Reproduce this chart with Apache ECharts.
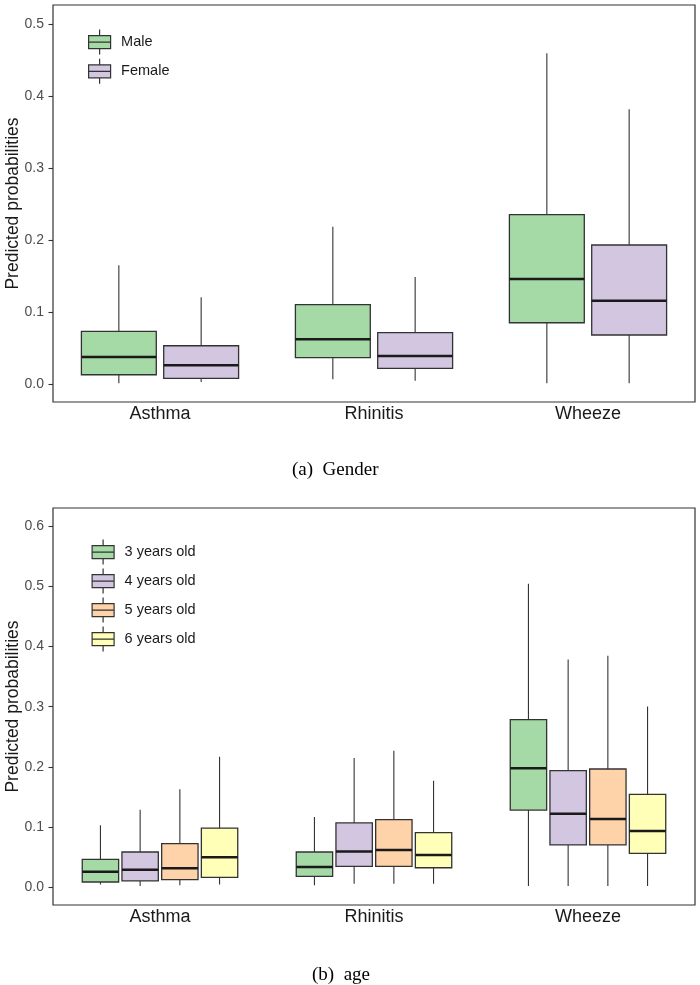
<!DOCTYPE html>
<html>
<head>
<meta charset="utf-8">
<script src="https://cdn.jsdelivr.net/npm/echarts@6/dist/echarts.min.js"></script>
<style>
html,body{margin:0;padding:0;background:#fff;}
#chart{width:700px;height:985px;}
</style>
</head>
<body>
<div id="chart"></div>
<script>
// ---- data ----
const categories = ['Asthma', 'Rhinitis', 'Wheeze'];
const yTicksTop = [0, 0.1, 0.2, 0.3, 0.4, 0.5];
const yTicksBottom = [0, 0.1, 0.2, 0.3, 0.4, 0.5, 0.6];
const genderNames = ['Male', 'Female'];
const ageNames = ['3 years old', '4 years old', '5 years old', '6 years old'];
// each box: [min, Q1, median, Q3, max]
const maleBox = [[0.0014, 0.0133, 0.038, 0.0735, 0.165], [0.0069, 0.0369, 0.0624, 0.1104, 0.2186], [0.0014, 0.0854, 0.146, 0.2352, 0.459]];
const femaleBox = [[0.0032, 0.0083, 0.0263, 0.0535, 0.1207], [0.005, 0.0222, 0.0393, 0.0716, 0.149], [0.0014, 0.0684, 0.116, 0.1932, 0.3814]];
const age3Box = [[0.004, 0.0083, 0.0255, 0.046, 0.1025], [0.003, 0.0177, 0.0333, 0.0582, 0.1165], [0.0017, 0.128, 0.1974, 0.2784, 0.5047]];
const age4Box = [[0.0017, 0.01, 0.0288, 0.0582, 0.1286], [0.0055, 0.0343, 0.0592, 0.1065, 0.2146], [0.0017, 0.0699, 0.122, 0.1935, 0.3787]];
const age5Box = [[0.003, 0.0122, 0.031, 0.072, 0.1624], [0.0055, 0.0343, 0.0615, 0.112, 0.2268], [0.0017, 0.0699, 0.1131, 0.1963, 0.3849]];
const age6Box = [[0.004, 0.016, 0.0493, 0.098, 0.2168], [0.0055, 0.032, 0.0532, 0.0903, 0.1769], [0.0017, 0.0559, 0.0932, 0.154, 0.3005]];
const captionTop = '(a)  Gender';
const captionBottom = '(b)  age';

// ---- styling ----
const colors = ['#A5D9A5', '#D2C6E1', '#FED3AA', '#FFFFB8'];
const edge = '#333333';

function makeRender(offsetFrac, widthFrac) {
  return function (params, api) {
    const cat = api.value(0);
    const band = api.size([1, 0])[0];
    const cx = api.coord([cat, 0])[0] + offsetFrac * band;
    const w = widthFrac * band;
    const yMin = api.coord([cat, api.value(1)])[1];
    const yQ1 = api.coord([cat, api.value(2)])[1];
    const yMed = api.coord([cat, api.value(3)])[1];
    const yQ3 = api.coord([cat, api.value(4)])[1];
    const yMax = api.coord([cat, api.value(5)])[1];
    return {
      type: 'group',
      children: [
        { type: 'line', shape: { x1: cx, y1: yMax, x2: cx, y2: yQ3 }, style: { stroke: edge, lineWidth: 1.1 } },
        { type: 'line', shape: { x1: cx, y1: yQ1, x2: cx, y2: yMin }, style: { stroke: edge, lineWidth: 1.1 } },
        { type: 'rect', shape: { x: cx - w / 2, y: yQ3, width: w, height: yQ1 - yQ3 }, style: { fill: api.visual('color'), stroke: edge, lineWidth: 1.3 } },
        { type: 'line', shape: { x1: cx - w / 2, y1: yMed, x2: cx + w / 2, y2: yMed }, style: { stroke: '#1a1a1a', lineWidth: 2.5 } }
      ]
    };
  };
}

function toData(boxes) {
  return boxes.map((b, i) => [i].concat(b));
}

const topSets = [maleBox, femaleBox];
const bottomSets = [age3Box, age4Box, age5Box, age6Box];
const topOffsets = [-0.1923, 0.1923];
const bottomOffsets = [-0.2783, -0.0928, 0.0928, 0.2783];

const series = [];
topSets.forEach((set, k) => {
  series.push({
    type: 'custom', name: genderNames[k], xAxisIndex: 0, yAxisIndex: 0,
    itemStyle: { color: colors[k] },
    renderItem: makeRender(topOffsets[k], 0.35),
    encode: { x: 0, y: [1, 2, 3, 4, 5] },
    data: toData(set)
  });
});
bottomSets.forEach((set, k) => {
  series.push({
    type: 'custom', name: ageNames[k], xAxisIndex: 1, yAxisIndex: 1,
    itemStyle: { color: colors[k] },
    renderItem: makeRender(bottomOffsets[k], 0.17),
    encode: { x: 0, y: [1, 2, 3, 4, 5] },
    data: toData(set)
  });
});

const legendIcon = 'path://M11,0L11,6M0,6L22,6L22,19L0,19ZM0,12.5L22,12.5M11,19L11,25';

function xAxisCfg(gi) {
  return {
    type: 'category', gridIndex: gi, data: categories,
    axisLine: { show: false }, axisTick: { show: false },
    axisLabel: { fontSize: 18, color: '#1a1a1a', margin: 3, fontFamily: 'Liberation Sans, Arial, sans-serif' },
    splitLine: { show: false }
  };
}
function yAxisCfg(gi, min, max, ticks) {
  return {
    type: 'value', gridIndex: gi, min: min, max: max,
    name: 'Predicted probabilities', nameLocation: 'middle', nameGap: 31, nameMoveOverlap: false,
    nameTextStyle: { fontSize: 17.5, color: '#1a1a1a', fontFamily: 'Liberation Sans, Arial, sans-serif' },
    axisLine: { show: false },
    axisTick: { show: true, length: 4.5, lineStyle: { color: edge, width: 1.1 }, customValues: ticks },
    axisLabel: { fontSize: 14, color: '#4d4d4d', margin: 9, fontFamily: 'Liberation Sans, Arial, sans-serif',
      customValues: ticks, formatter: v => Number(v).toFixed(1) },
    splitLine: { show: false }
  };
}

const option = {
  animation: false,
  backgroundColor: '#ffffff',
  grid: [
    { left: 53, right: 5, top: 5, height: 397, show: true, borderColor: edge, borderWidth: 1.2, backgroundColor: 'transparent', containLabel: false, outerBoundsMode: 'none' },
    { left: 53, right: 5, top: 508, height: 397, show: true, borderColor: edge, borderWidth: 1.2, backgroundColor: 'transparent', containLabel: false, outerBoundsMode: 'none' }
  ],
  xAxis: [xAxisCfg(0), xAxisCfg(1)],
  yAxis: [yAxisCfg(0, -0.0245, 0.526, yTicksTop), yAxisCfg(1, -0.03, 0.6306, yTicksBottom)],
  legend: [
    {
      data: genderNames.map(n => ({ name: n, icon: legendIcon })),
      orient: 'vertical', left: 88, top: 29, padding: 0,
      itemWidth: 23, itemHeight: 25, itemGap: 3, selectedMode: false,
      itemStyle: { borderColor: edge, borderWidth: 1.2 },
      textStyle: { fontSize: 14.5, color: '#1a1a1a', padding: [0, 0, 0, 5], fontFamily: 'Liberation Sans, Arial, sans-serif' }
    },
    {
      data: ageNames.map(n => ({ name: n, icon: legendIcon })),
      orient: 'vertical', left: 91.5, top: 539, padding: 0,
      itemWidth: 23, itemHeight: 25, itemGap: 2.8, selectedMode: false,
      itemStyle: { borderColor: edge, borderWidth: 1.2 },
      textStyle: { fontSize: 14.5, color: '#1a1a1a', padding: [0, 0, 0, 5], fontFamily: 'Liberation Sans, Arial, sans-serif' }
    }
  ],
  graphic: [
    { type: 'text', left: 292, top: 461, style: { text: captionTop, font: '19px "Liberation Serif", "Times New Roman", serif', fill: '#000' } },
    { type: 'text', left: 312, top: 966, style: { text: captionBottom, font: '19px "Liberation Serif", "Times New Roman", serif', fill: '#000' } }
  ],
  series: series
};

const chart = echarts.init(document.getElementById('chart'), null, { renderer: 'canvas' });
chart.setOption(option);
</script>
</body>
</html>
